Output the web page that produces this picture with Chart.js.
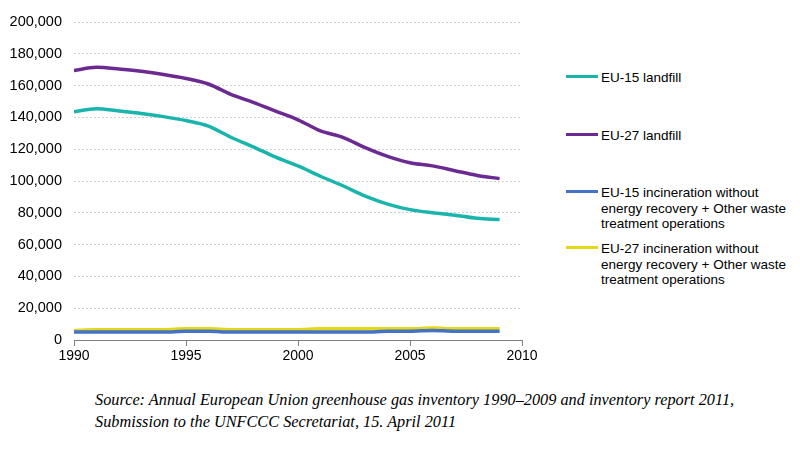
<!DOCTYPE html>
<html>
<head>
<meta charset="utf-8">
<script src="https://cdn.jsdelivr.net/npm/chart.js@4"></script>
<style>
  body { margin: 0; background: #fff; width: 800px; height: 456px; position: relative; overflow: hidden; }
  #wrap { position: absolute; left: 0; top: 0; width: 545px; height: 372px; }
  .legend { position: absolute; left: 566px; font: 13.5px "Liberation Sans", Arial, sans-serif; color: #000; }
  .legend .item { position: absolute; left: 0; width: 234px; }
  .legend .sw { position: absolute; left: 0; top: 4.5px; width: 32px; height: 3px; }
  .legend .txt { position: absolute; left: 35px; line-height: 15.5px; white-space: nowrap; }
  .source { position: absolute; left: 95px; top: 389px; font: italic 16.3px "Liberation Serif", "Times New Roman", serif; line-height: 21.5px; color: #000; white-space: nowrap; }
</style>
</head>
<body>
<div id="wrap"><canvas id="chart"></canvas></div>
<div class="legend" id="legend"></div>
<div class="source">Source: Annual European Union greenhouse gas inventory 1990–2009 and inventory report 2011,<br>Submission to the UNFCCC Secretariat, 15. April 2011</div>
<script>
const years = [1990,1991,1992,1993,1994,1995,1996,1997,1998,1999,2000,2001,2002,2003,2004,2005,2006,2007,2008,2009];
const eu15Landfill = [143500,145500,144000,142500,140500,138000,134500,127500,121500,115000,109500,103000,97000,90500,85500,82000,80000,78500,76500,75800];
const eu27Landfill = [169500,171500,170500,169000,167000,164500,161000,154500,149500,144000,138500,131500,127500,121000,115500,111500,109500,106500,103500,101500];
const eu15Incin = [5000,5000,5000,5000,5000,5500,5500,5000,5000,5000,5000,5000,5000,5000,5500,5500,6000,5500,5500,5500];
const eu27Incin = [6000,6500,6500,6500,6500,7000,7000,6500,6500,6500,6500,7000,7000,7000,7000,7000,7500,7000,7000,7000];
const yTicks = [0,20000,40000,60000,80000,100000,120000,140000,160000,180000,200000];
const xTicks = [1990,1995,2000,2005,2010];

const series = [
  { label: 'EU-15 landfill', data: eu15Landfill, color: '#19b5ad', top: 70 },
  { label: 'EU-27 landfill', data: eu27Landfill, color: '#6b2a92', top: 128 },
  { label: 'EU-15 incineration without\nenergy recovery + Other waste\ntreatment operations', data: eu15Incin, color: '#4472c4', top: 185 },
  { label: 'EU-27 incineration without\nenergy recovery + Other waste\ntreatment operations', data: eu27Incin, color: '#e3d718', top: 241 }
];

// draw order: small lines first, landfill on top
const drawOrder = [2, 3, 0, 1];
const datasets = drawOrder.map(i => {
  const s = series[i];
  return {
    label: s.label,
    data: years.map((y, k) => ({ x: y, y: s.data[k] })),
    borderColor: s.color,
    backgroundColor: s.color,
    borderWidth: 3.5,
    pointRadius: 0,
    tension: 0.4,
    cubicInterpolationMode: 'monotone',
    fill: false
  };
});

const fam = "'Liberation Sans', Arial, sans-serif";

new Chart(document.getElementById('chart'), {
  type: 'line',
  data: { datasets },
  options: {
    responsive: true,
    maintainAspectRatio: false,
    animation: false,
    layout: { padding: { left: 0, right: 23, top: 22, bottom: 0 } },
    plugins: { legend: { display: false }, tooltip: { enabled: false } },
    scales: {
      x: {
        type: 'linear',
        min: 1990,
        max: 2010,
        afterBuildTicks: s => { s.ticks = xTicks.map(v => ({ value: v })); },
        afterFit: s => { s.height = 32; },
        ticks: {
          color: '#000',
          font: { family: fam, size: 14 },
          padding: 2,
          maxRotation: 0,
          callback: v => String(v)
        },
        grid: { display: true, drawOnChartArea: false, drawTicks: true, tickLength: 6, color: '#808080', lineWidth: 1 },
        border: { display: true, color: '#808080', width: 1 }
      },
      y: {
        min: 0,
        max: 200000,
        afterBuildTicks: s => { s.ticks = yTicks.map(v => ({ value: v })); },
        afterFit: s => { s.width = 74; },
        ticks: {
          color: '#000',
          font: { family: fam, size: 14.5 },
          padding: 12,
          callback: v => v.toLocaleString('en-US')
        },
        grid: { color: '#d0d0d0', lineWidth: 1, drawTicks: false },
        border: { display: false, dash: [2, 2] }
      }
    }
  }
});

// legend
const legend = document.getElementById('legend');
series.forEach(s => {
  const item = document.createElement('div');
  item.className = 'item';
  item.style.top = s.top + 'px';
  const sw = document.createElement('div');
  sw.className = 'sw';
  sw.style.background = s.color;
  const txt = document.createElement('div');
  txt.className = 'txt';
  txt.innerHTML = s.label.split('\n').join('<br>');
  item.appendChild(sw);
  item.appendChild(txt);
  legend.appendChild(item);
});
</script>
</body>
</html>
